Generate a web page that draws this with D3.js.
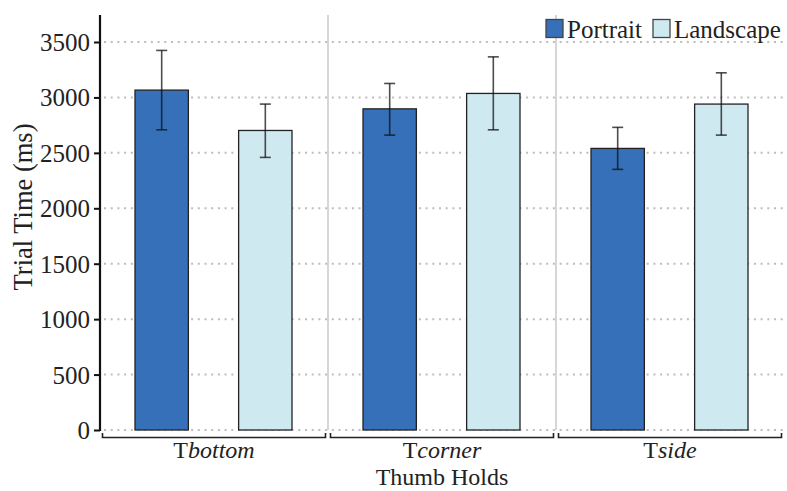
<!DOCTYPE html>
<html><head><meta charset="utf-8">
<script src="https://cdn.jsdelivr.net/npm/d3@7"></script>
<style>body{margin:0;background:#fff}svg{display:block}</style>
</head><body>
<script>
const categories = ["bottom", "corner", "side"];
const seriesNames = ["Portrait", "Landscape"];
const portraitValues = [3066, 2897, 2540];
const landscapeValues = [2702, 3036, 2940];
const portraitErrLow = [2708, 2660, 2351];
const portraitErrHigh = [3424, 3126, 2730];
const landscapeErrLow = [2459, 2708, 2660];
const landscapeErrHigh = [2940, 3366, 3222];
const yTicks = [0, 500, 1000, 1500, 2000, 2500, 3000, 3500];
const colors = ["#3570b8", "#cfe9f1"];

const FONT = "Liberation Serif, Times New Roman, serif";
const W = 787, H = 491;
const svg = d3.select("body").append("svg").attr("width", W).attr("height", H)
  .attr("font-family", FONT);
const x0 = 100, x1 = 784, yTop = 15;
const y = d3.scaleLinear().domain([0, 3500]).range([430, 42]);
const x = d3.scaleBand().domain(categories).range([x0, x1]).padding(0);
const xs = d3.scaleBand().domain(seriesNames).range([35, x.bandwidth() - 36]).paddingInner(0.485);

// grid
svg.append("g").selectAll("line").data(yTicks).join("line")
  .attr("x1", x0 + 4).attr("x2", x1).attr("y1", d => y(d)).attr("y2", d => y(d))
  .attr("stroke", "#bdbdbd").attr("stroke-width", 2).attr("stroke-dasharray", "2,4.7");

// separators
svg.append("g").selectAll("line").data(categories.slice(1)).join("line")
  .attr("x1", d => x(d)).attr("x2", d => x(d)).attr("y1", yTop).attr("y2", 430)
  .attr("stroke", "#bbb").attr("stroke-width", 1.2);

// y axis
const ya = svg.append("g").attr("transform", `translate(${x0},0)`)
  .call(d3.axisLeft(y).tickValues(yTicks).tickSize(6).tickPadding(4).tickFormat(d3.format("d")));
ya.attr("font-family", FONT).attr("font-size", 25);
ya.select(".domain").remove();
ya.selectAll(".tick line").attr("stroke", "#111").attr("stroke-width", 2);
ya.selectAll(".tick text").attr("fill", "#222").attr("dy", "0.34em");
svg.append("line").attr("x1", x0).attr("x2", x0).attr("y1", yTop).attr("y2", 431)
  .attr("stroke", "#111").attr("stroke-width", 2.2);

// bars
const data = categories.map((c, i) => [
  {c, s: "Portrait", v: portraitValues[i], lo: portraitErrLow[i], hi: portraitErrHigh[i], col: colors[0]},
  {c, s: "Landscape", v: landscapeValues[i], lo: landscapeErrLow[i], hi: landscapeErrHigh[i], col: colors[1]}
]).flat();

const g = svg.append("g");
g.selectAll("rect").data(data).join("rect")
  .attr("x", d => x(d.c) + xs(d.s)).attr("width", xs.bandwidth())
  .attr("y", d => y(d.v)).attr("height", d => y(0) - y(d.v))
  .attr("fill", d => d.col).attr("stroke", "#222").attr("stroke-width", 1.3);

// error bars
const eb = svg.append("g").attr("stroke", "#111").attr("stroke-opacity", 0.75).attr("stroke-width", 1.6);
data.forEach(d => {
  const cx = x(d.c) + xs(d.s) + xs.bandwidth() / 2;
  eb.append("line").attr("x1", cx).attr("x2", cx).attr("y1", y(d.hi)).attr("y2", y(d.lo));
  eb.append("line").attr("x1", cx - 5.5).attr("x2", cx + 5.5).attr("y1", y(d.hi)).attr("y2", y(d.hi));
  eb.append("line").attr("x1", cx - 5.5).attr("x2", cx + 5.5).attr("y1", y(d.lo)).attr("y2", y(d.lo));
});

// x brackets
const br = svg.append("g").attr("stroke", "#222").attr("stroke-width", 1.6).attr("fill", "none");
categories.forEach(c => {
  const a = x(c) + 2.5, b = x(c) + x.bandwidth() - 2.5;
  br.append("path").attr("d", `M${a},433V437.5H${b}V433`);
});

// category labels
const lab = svg.append("g").attr("fill", "#222");
categories.forEach(c => {
  const t = lab.append("text").attr("x", x(c) + x.bandwidth() / 2).attr("y", 458)
    .attr("text-anchor", "middle").attr("font-size", 24);
  t.append("tspan").text("T");
  t.append("tspan").attr("font-style", "italic").text(c);
});

svg.append("text").attr("x", x(categories[1]) + x.bandwidth() / 2).attr("y", 485)
  .attr("text-anchor", "middle").attr("font-size", 24).attr("fill", "#222").text("Thumb Holds");

svg.append("text").attr("transform", "translate(32,207) rotate(-90)")
  .attr("text-anchor", "middle").attr("font-size", 26.5).attr("fill", "#222").text("Trial Time (ms)");

// legend
const legend = [{n: "Portrait", col: colors[0], x: 546}, {n: "Landscape", col: colors[1], x: 653}];
const lg = svg.append("g");
legend.forEach(l => {
  lg.append("rect").attr("x", l.x).attr("y", 19.5).attr("width", 17).attr("height", 18)
    .attr("fill", l.col).attr("stroke", "#444").attr("stroke-width", 1.3);
  lg.append("text").attr("x", l.x + 21).attr("y", 37.5).attr("font-size", 25).attr("fill", "#222").text(l.n);
});
</script>
</body></html>
